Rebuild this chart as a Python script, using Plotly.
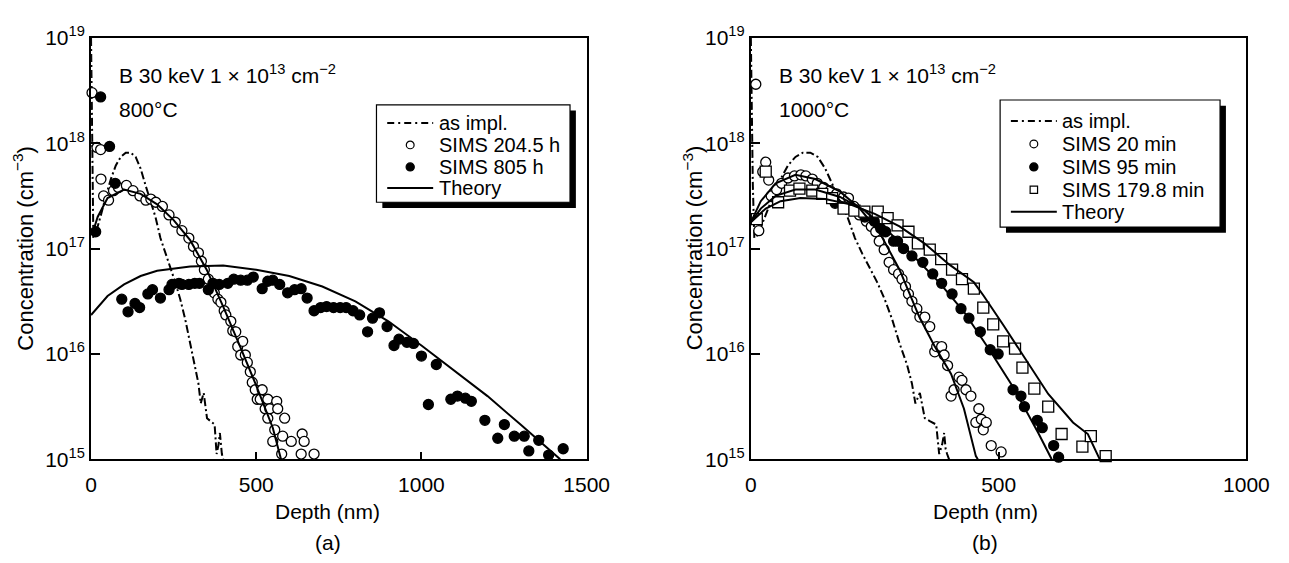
import plotly.graph_objects as go

# ---------------- data (y given as log10 of concentration) ----------------
impl_x = [0, 2, 4, 7, 12, 20, 30, 45, 60, 75, 90, 105, 120, 135, 150, 165, 180, 195, 210, 225,
          240, 255, 270, 285, 300, 315, 325, 332, 341, 351, 362, 374, 380, 386, 390, 393, 396, 400]
impl_lg = [19.0, 18.3, 17.6, 17.1, 17.12, 17.2, 17.32, 17.5, 17.66, 17.79, 17.87, 17.91, 17.91, 17.87,
           17.76, 17.6, 17.45, 17.3, 17.1, 16.95, 16.82, 16.68, 16.52, 16.33, 16.1, 15.9, 15.72, 15.53,
           15.63, 15.39, 15.36, 15.33, 15.05, 15.14, 15.25, 15.1, 15.05, 15.0]

# panel (a) 800 C
a204_x = [3, 18, 29, 30, 38, 53, 68, 83, 107, 127, 148, 166, 181, 196, 216, 236, 255, 275, 296, 310,
          325, 334, 343, 355, 373, 384, 393, 403, 408, 423, 429, 438, 444, 453, 459, 467, 473, 482, 488,
          497, 503, 512, 518, 527, 535, 535, 541, 550, 556, 562, 565, 577, 580, 586, 606, 636, 639, 645, 675]
a204_lg = [18.48, 17.96, 17.94, 17.66, 17.5, 17.46, 17.55, 17.58, 17.6, 17.55, 17.5, 17.46, 17.47, 17.44,
           17.4, 17.32, 17.25, 17.17, 17.1, 17.02, 16.96, 16.88, 16.8, 16.71, 16.58, 16.52, 16.49, 16.41,
           16.37, 16.31, 16.22, 16.21, 16.07, 15.99, 16.12, 15.99, 15.92, 15.83, 15.73, 15.66, 15.57, 15.57,
           15.66, 15.48, 15.57, 15.39, 15.48, 15.17, 15.28, 15.55, 15.48, 15.05, 15.22, 15.39, 15.17, 15.05,
           15.24, 15.17, 15.05]

a805_x = [14, 29, 56, 73, 93, 112, 133, 147, 172, 186, 210, 236, 245, 266, 275, 296, 314, 328, 355, 369,
          388, 414, 432, 453, 473, 491, 518, 535, 550, 571, 595, 616, 636, 654, 675, 695, 713, 734, 754,
          772, 793, 813, 837, 852, 873, 896, 917, 932, 956, 976, 1000, 1021, 1045, 1089, 1109, 1133,
          1151, 1192, 1231, 1251, 1281, 1311, 1325, 1355, 1385, 1429]
a805_lg = [17.16, 18.44, 17.97, 17.62, 16.52, 16.4, 16.48, 16.44, 16.57, 16.61, 16.53, 16.61, 16.66, 16.67,
           16.66, 16.66, 16.67, 16.67, 16.61, 16.67, 16.66, 16.67, 16.71, 16.7, 16.7, 16.73, 16.62, 16.69,
           16.7, 16.66, 16.58, 16.61, 16.62, 16.53, 16.41, 16.44, 16.45, 16.44, 16.44, 16.44, 16.41, 16.37,
           16.21, 16.34, 16.39, 16.26, 16.08, 16.14, 16.11, 16.1, 15.98, 15.52, 15.9, 15.57, 15.6, 15.58,
           15.55, 15.37, 15.2, 15.33, 15.22, 15.22, 15.08, 15.18, 15.04, 15.1]

a_th204_x = [5, 20, 50, 100, 150, 200, 250, 300, 350, 400, 450, 500, 550, 575]
a_th204_lg = [17.15, 17.3, 17.48, 17.56, 17.52, 17.42, 17.27, 17.08, 16.8, 16.45, 16.08, 15.7, 15.3, 15.0]
a_th805_x = [0, 50, 100, 150, 200, 300, 400, 500, 600, 700, 800, 900, 1000, 1100, 1200, 1300, 1400, 1420]
a_th805_lg = [16.37, 16.55, 16.66, 16.74, 16.79, 16.83, 16.84, 16.8, 16.74, 16.64, 16.5, 16.31, 16.08,
              15.84, 15.6, 15.33, 15.05, 15.0]

# panel (b) 1000 C
b20_x = [10, 16, 24, 30, 36, 41, 52, 62, 75, 88, 101, 111, 124, 134, 147, 160, 173, 187, 197, 208, 219,
         233, 243, 252, 259, 269, 279, 288, 298, 305, 312, 318, 325, 335, 341, 351, 361, 371, 375, 385, 390,
         397, 404, 410, 420, 426, 434, 444, 454, 460, 465, 469, 475, 485, 505]
b20_lg = [18.56, 17.17, 17.73, 17.82, 17.65, 17.5, 17.56, 17.62, 17.67, 17.69, 17.7, 17.69, 17.66, 17.62,
          17.58, 17.55, 17.52, 17.49, 17.48, 17.4, 17.32, 17.26, 17.21, 17.16, 17.07, 16.99, 16.87, 16.8,
          16.76, 16.71, 16.64, 16.57, 16.5, 16.43, 16.35, 16.35, 16.26, 16.02, 16.07, 16.07, 15.99, 15.89,
          15.6, 15.66, 15.78, 15.75, 15.66, 15.6, 15.35, 15.48, 15.38, 15.28, 15.35, 15.13, 15.07]

b95_x = [170, 207, 230, 249, 262, 272, 288, 296, 308, 325, 347, 367, 385, 406, 424, 440, 463, 483, 499,
         529, 545, 552, 578, 588, 611, 621]
b95_lg = [17.43, 17.37, 17.3, 17.26, 17.19, 17.16, 17.07, 17.07, 17.0, 16.93, 16.87, 16.76, 16.67, 16.57,
          16.43, 16.34, 16.21, 16.04, 16.0, 15.66, 15.6, 15.5, 15.37, 15.3, 15.13, 15.02]

b180_x = [12, 30, 55, 79, 98, 124, 144, 164, 187, 209, 229, 256, 276, 296, 318, 337, 361, 384, 406, 426,
          450, 469, 489, 509, 533, 548, 572, 600, 627, 669, 686, 716]
b180_lg = [17.28, 17.73, 17.44, 17.55, 17.57, 17.55, 17.52, 17.48, 17.38, 17.36, 17.35, 17.35, 17.29,
           17.22, 17.16, 17.05, 16.99, 16.9, 16.8, 16.71, 16.62, 16.44, 16.28, 16.12, 16.05, 15.87, 15.67,
           15.5, 15.24, 15.12, 15.22, 15.03]

b_th20_x = [0, 20, 50, 90, 130, 180, 220, 260, 300, 340, 370, 404, 430, 454, 458]
b_th20_lg = [17.25, 17.45, 17.62, 17.7, 17.66, 17.54, 17.38, 17.15, 16.8, 16.35, 16.08, 15.81, 15.48, 15.03, 15.0]
b_th95_x = [0, 20, 50, 90, 130, 180, 230, 280, 330, 380, 430, 480, 530, 580, 607]
b_th95_lg = [17.25, 17.38, 17.5, 17.56, 17.56, 17.49, 17.36, 17.15, 16.92, 16.68, 16.4, 16.05, 15.68, 15.25, 15.0]
b_th180_x = [0, 30, 60, 100, 150, 200, 250, 300, 350, 400, 450, 470, 510, 550, 600, 650, 680, 704]
b_th180_lg = [17.25, 17.38, 17.45, 17.48, 17.47, 17.42, 17.33, 17.21, 17.05, 16.85, 16.68, 16.55, 16.27,
              15.98, 15.62, 15.35, 15.24, 15.0]

y_tickvals = [1e15, 1e16, 1e17, 1e18, 1e19]
y_ticktext = ["10<sup>15</sup>", "10<sup>16</sup>", "10<sup>17</sup>", "10<sup>18</sup>", "10<sup>19</sup>"]
xa_ticks = [0, 500, 1000, 1500]
xb_ticks = [0, 500, 1000]

legend_a = ["as impl.", "SIMS 204.5 h", "SIMS 805 h", "Theory"]
legend_b = ["as impl.", "SIMS 20 min", "SIMS 95 min", "SIMS 179.8 min", "Theory"]


def conc(lg):
    return [10 ** v for v in lg]


FONT = "Liberation Sans, Arial, Helvetica, sans-serif"
FS = 21
LFS = 20
DASHDOT = "8px,3px,2px,3px"

fig = go.Figure()


def add_line(x, lg, name, xa, ya, dash=None, width=2):
    fig.add_trace(go.Scatter(x=x, y=conc(lg), mode="lines", name=name, xaxis=xa, yaxis=ya,
                             line=dict(color="black", width=width, dash=dash), showlegend=False))


def add_pts(x, lg, name, xa, ya, symbol, fill, size=10):
    fig.add_trace(go.Scatter(x=x, y=conc(lg), mode="markers", name=name, xaxis=xa, yaxis=ya,
                             cliponaxis=False,
                             marker=dict(symbol=symbol, size=size, color=fill,
                                         line=dict(color="black", width=1.3)),
                             showlegend=False))


# panel (a)
add_line(impl_x, impl_lg, legend_a[0], "x", "y", dash=DASHDOT, width=2)
add_pts(a204_x, a204_lg, legend_a[1], "x", "y", "circle", "white")
add_pts(a805_x, a805_lg, legend_a[2], "x", "y", "circle", "black")
add_line(a_th204_x, a_th204_lg, legend_a[3], "x", "y")
add_line(a_th805_x, a_th805_lg, legend_a[3], "x", "y")

# panel (b)
add_line(impl_x, impl_lg, legend_b[0], "x2", "y2", dash=DASHDOT, width=2)
add_pts(b20_x, b20_lg, legend_b[1], "x2", "y2", "circle", "white")
add_pts(b95_x, b95_lg, legend_b[2], "x2", "y2", "circle", "black")
add_pts(b180_x, b180_lg, legend_b[3], "x2", "y2", "square", "white", size=11)
add_line(b_th20_x, b_th20_lg, legend_b[4], "x2", "y2")
add_line(b_th95_x, b_th95_lg, legend_b[4], "x2", "y2")
add_line(b_th180_x, b_th180_lg, legend_b[4], "x2", "y2")

W, H = 1289, 563


def px(x):
    return x / W


def py(y):
    return 1 - y / H


axis_common = dict(showline=True, linewidth=2, linecolor="black", mirror=True, showgrid=False,
                   zeroline=False, ticks="inside", tickcolor="black", tickwidth=1.5,
                   tickfont=dict(family=FONT, size=FS, color="black"))

fig.update_layout(
    width=W, height=H, margin=dict(l=0, r=0, t=0, b=0),
    paper_bgcolor="white", plot_bgcolor="white",
    font=dict(family=FONT, size=FS, color="black"),
    showlegend=False,
    xaxis=dict(domain=[px(87), px(594)], range=[0, 1500], tickvals=xa_ticks, ticklen=7,
               ticklabelstandoff=5, anchor="y", **axis_common),
    yaxis=dict(domain=[py(466), py(25)], type="log", range=[15, 19], tickvals=y_tickvals,
               ticktext=y_ticktext, ticklen=9, anchor="x", **axis_common),
    xaxis2=dict(domain=[px(762), px(1269)], range=[0, 1000], tickvals=xb_ticks, ticklen=7,
                ticklabelstandoff=5, anchor="y2", **axis_common),
    yaxis2=dict(domain=[py(466), py(25)], type="log", range=[15, 19], tickvals=y_tickvals,
                ticktext=y_ticktext, ticklen=9, anchor="x2", **axis_common),
)

shapes = []
ann = []


def text(x, y, s, size=FS, **kw):
    d = dict(x=px(x), y=py(y), xref="paper", yref="paper", text=s, showarrow=False,
             font=dict(family=FONT, size=size, color="black"))
    d.update(kw)
    ann.append(d)


def rect(x0, y0, x1, y1, fill, lw=0, lc="black"):
    shapes.append(dict(type="rect", xref="paper", yref="paper", x0=px(x0), x1=px(x1), y0=py(y1), y1=py(y0),
                       fillcolor=fill, line=dict(width=lw, color=lc), layer="above"))


def hline(x0, x1, y, dash=None, width=2):
    shapes.append(dict(type="line", xref="paper", yref="paper", x0=px(x0), x1=px(x1), y0=py(y), y1=py(y),
                       line=dict(color="black", width=width, dash=dash), layer="above"))


def marker(cx, cy, r, kind, fill):
    shapes.append(dict(type=kind, xref="paper", yref="paper", x0=px(cx - r), x1=px(cx + r),
                       y0=py(cy + r), y1=py(cy - r), fillcolor=fill,
                       line=dict(color="black", width=1.2), layer="above"))


def legend_box(box, rows, sym_x0, sym_x1, text_x, names, kinds):
    x0, y0, x1, y1 = box
    rect(x0 + 6, y0 + 6, x1 + 6, y1 + 6, "black")
    rect(x0, y0, x1, y1, "white", lw=1.2)
    mid = (sym_x0 + sym_x1) / 2
    for yy, name, kind in zip(rows, names, kinds):
        if kind == "dashdot":
            hline(sym_x0, sym_x1, yy, dash="7px,4px,2px,4px", width=2)
        elif kind == "solid":
            hline(sym_x0, sym_x1, yy, width=2)
        elif kind == "open":
            marker(mid, yy, 4, "circle", "white")
        elif kind == "filled":
            marker(mid, yy, 4.2, "circle", "black")
        elif kind == "square":
            marker(mid, yy, 3.8, "rect", "white")
        text(text_x - 1, yy, name, size=LFS, borderpad=0, xanchor="left", yanchor="middle")


legend_box((379, 95, 577, 197), [114, 137, 160, 182], 390, 437, 443, legend_a,
           ["dashdot", "open", "filled", "solid"])
legend_box((1017, 90, 1242, 223), [112, 136, 160, 184, 207], 1028, 1075, 1080, legend_b,
           ["dashdot", "open", "filled", "square", "solid"])

for x0 in (117, 792):
    text(x0 - 3, 63, "B 30 keV 1 \u00d7 10<sup>13</sup> cm<sup>\u22122</sup>", xanchor="left", yanchor="middle")
text(114, 100, "800\u00b0C", xanchor="left", yanchor="middle")
text(789, 100, "1000\u00b0C", xanchor="left", yanchor="middle")
text(18, 245, "Concentration (cm<sup>\u22123</sup>)", size=22, textangle=-90, xanchor="center", yanchor="middle")
text(703, 245, "Concentration (cm<sup>\u22123</sup>)", size=22, textangle=-90, xanchor="center", yanchor="middle")
text(329, 521, "Depth (nm)", xanchor="center", yanchor="middle")
text(1002, 521, "Depth (nm)", xanchor="center", yanchor="middle")
text(329, 553, "(a)", xanchor="center", yanchor="middle")
text(1002, 553, "(b)", xanchor="center", yanchor="middle")

fig.update_layout(shapes=shapes, annotations=ann)

fig.write_html("out.html")
